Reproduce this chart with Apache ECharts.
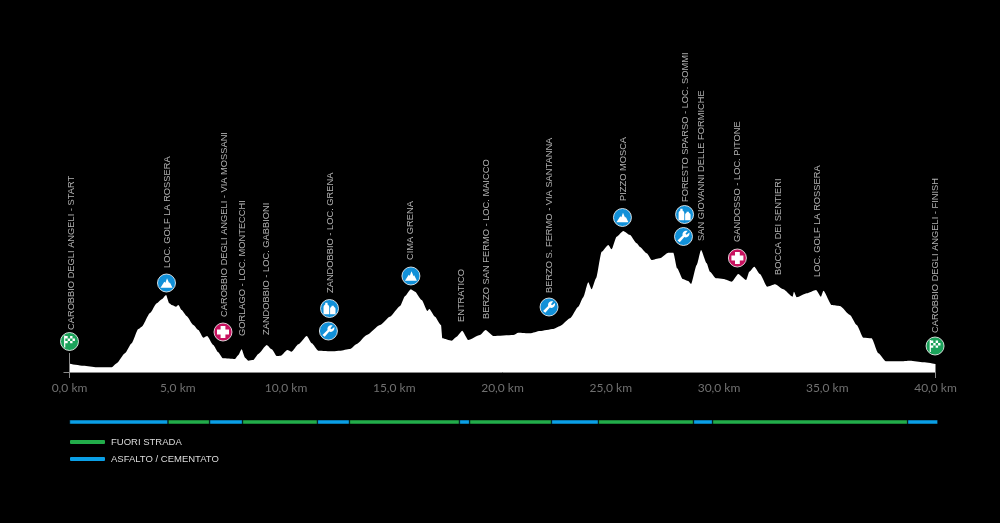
<!DOCTYPE html>
<html>
<head>
<meta charset="utf-8">
<title>Altimetria</title>
<style>
html, body { margin: 0; padding: 0; background: #000; }
#chart { width: 1000px; height: 523px; }
</style>
<script src="https://cdn.jsdelivr.net/npm/echarts@6/dist/echarts.min.js"></script>
</head>
<body>
<div id="chart"></div>
<script>
// profile, km and height above the baseline (no scale in the picture, so pixels)
var profileKm = [0, 0.64, 1.26, 1.95, 2.18, 2.56, 2.87, 3.18, 3.34, 3.72, 4.03, 4.26, 4.46, 4.61, 4.72, 4.92, 5.03, 5.18, 5.41, 5.72, 5.95, 6.18, 6.36, 6.64, 6.87, 7.08, 7.64, 7.80, 7.95, 8.11, 8.26, 8.49, 8.72, 9.11, 9.34, 9.57, 9.76, 10.06, 10.26, 10.57, 10.96, 11.19, 11.49, 12.18, 12.49, 12.96, 13.27, 13.73, 14.34, 14.80, 15.27, 15.50, 15.77, 15.96, 16.27, 16.53, 16.62, 16.88, 17.16, 17.22, 17.65, 17.88, 18.14, 18.42, 18.96, 19.22, 19.58, 20.50, 20.73, 21.27, 21.73, 22.35, 22.66, 23.12, 23.50, 23.73, 23.96, 24.12, 24.32, 24.58, 24.89, 25.04, 25.27, 25.58, 25.89, 26.20, 26.35, 26.66, 26.89, 27.27, 27.66, 27.89, 28.07, 28.32, 28.58, 28.71, 28.97, 29.17, 29.43, 29.58, 29.86, 30.20, 30.59, 30.89, 31.25, 31.40, 31.63, 31.89, 32.23, 32.59, 32.97, 33.40, 33.46, 33.59, 34.05, 34.48, 34.71, 34.82, 35.21, 35.59, 36.05, 36.36, 36.67, 37.05, 37.36, 37.71, 38.36, 38.82, 39.44, 40];
var profileHeight = [8.3, 6.3, 4.7, 4.7, 8.7, 18.7, 28.7, 43, 45.3, 59, 68.7, 72.7, 77, 68.7, 67, 65.3, 67, 62, 56, 47, 42, 34.3, 36, 27, 19.7, 13.7, 13, 17, 22.7, 14.3, 11.3, 12, 18, 27, 22.7, 16, 16.3, 22, 20.3, 27.7, 36, 28.7, 21.3, 20.7, 21.3, 23, 28, 37, 47, 55.3, 66, 76, 82.7, 80.3, 72, 61, 63, 55.3, 47, 33.7, 31.3, 35.3, 41.3, 32, 37, 42, 36, 37, 39.3, 38.7, 41, 43, 46, 53.7, 65.3, 74.7, 89.7, 82.7, 93.7, 120.3, 127, 122.7, 135.3, 141, 137, 128.7, 125, 118.7, 112, 113.7, 119.3, 119.3, 103.7, 93, 91, 88, 107, 122, 108.7, 100.3, 93.7, 93, 90.3, 98, 92, 100.3, 105.3, 98, 85.3, 87.7, 82.7, 75.3, 80.3, 74.7, 78.7, 82, 75.3, 81.3, 67, 66, 57, 47, 34.3, 33.7, 18.7, 10.7, 10.7, 11.3, 9.7, 8];

var tickKm = [0, 5, 10, 15, 20, 25, 30, 35, 40];

// place names along the route
var placeNames = ['CAROBBIO DEGLI ANGELI - START', 'LOC. GOLF LA ROSSERA', 'CAROBBIO DEGLI ANGELI - VIA MOSSANI', 'GORLAGO - LOC. MONTECCHI', 'ZANDOBBIO - LOC. GABBIONI', 'ZANDOBBIO - LOC. GRENA', 'CIMA GRENA', 'ENTRATICO', 'BERZO SAN FERMO - LOC. MAICCO', 'BERZO S. FERMO - VIA SANTANNA', 'PIZZO MOSCA', 'FORESTO SPARSO - LOC. SOMMI', 'SAN GIOVANNI DELLE FORMICHE', 'GANDOSSO - LOC. PITONE', 'BOCCA DEI SENTIERI', 'LOC. GOLF LA ROSSERA', 'CAROBBIO DEGLI ANGELI - FINISH'];
var placeKm = [0.07, 4.52, 7.14, 7.97, 9.11, 12.03, 15.77, 18.12, 19.27, 22.19, 25.57, 28.43, 29.2, 30.87, 32.73, 34.53, 40];
var placeHeight = [42, 104, 55, 36, 37, 79, 112, 50, 53, 79, 171, 170, 131, 130, 97, 95, 39];

// round icons
var markerKm = [0, 4.48, 7.09, 12.01, 11.96, 15.77, 22.15, 25.54, 28.41, 28.36, 30.85, 39.98];
var markerHeight = [30.5, 89, 40, 63.5, 41, 96, 65, 154.5, 157.5, 135.5, 114, 26];
var markerType = ['flag', 'mountain', 'aid', 'water', 'tools', 'mountain', 'tools', 'mountain', 'water', 'tools', 'aid', 'flag'];

// road surface strip
var surfaceEnd = [4.55, 6.47, 7.99, 11.45, 12.93, 18.01, 18.48, 22.26, 24.43, 28.82, 29.7, 38.71, 40.11];
var surfaceType = [1, 0, 1, 0, 1, 0, 1, 0, 1, 0, 1, 0, 1];
var surfaceNames = ['FUORI STRADA', 'ASFALTO / CEMENTATO'];
var surfaceColors = ['#22ac4a', '#0a9fe6'];

var markerColors = { flag: '#1ba25a', mountain: '#1190d8', tools: '#1190d8', water: '#1190d8', aid: '#c8125f' };
var glyphs = {
	flag: 'path://M3 2H5V22H3Z M5 3H9V7H5Z M13 3H17V7H13Z M9 7H13V11H9Z M17 7H21V11H17Z M5 11H9V15H5Z M13 11H17V15H13Z',
	mountain: 'path://M1 20L8 9L10 11L13 3L17 12L18 10L23 20Z',
	aid: 'path://M8 2H16V8H22V16H16V22H8V16H2V8H8Z',
	water: 'path://M5 2H9V5C11 6 12 8 12 10V22H2V10C2 8 3 6 5 5Z M16 7H20V9C22 10 23 11 23 13V22H13.5V13C13.5 11 14 10 16 9Z',
	tools: 'path://M2 19L11 10C10 5 14 1 20 2L16 7L18 9L23 5C24 11 19 15 14 13L6 22Z'
};

var chart = echarts.init(document.getElementById('chart'));

function zip(a, b) {
	return a.map(function (v, i) { return [v, b[i]]; });
}

var series = [{
	name: 'profile',
	type: 'line',
	data: zip(profileKm, profileHeight),
	showSymbol: false,
	smooth: 0.2,
	smoothMonotone: 'x',
	lineStyle: { width: 0 },
	itemStyle: { color: '#fff' },
	areaStyle: { color: '#fff', opacity: 1 },
	z: 2
}, {
	// small upright at the start of the axis
	name: 'start',
	type: 'line',
	data: [[0, 0], [0, 19]],
	showSymbol: false,
	lineStyle: { color: '#8a8a8a', width: 1 },
	z: 3
}, {
	name: 'places',
	type: 'scatter',
	data: zip(placeKm, placeHeight).map(function (p, i) {
		return { value: p, name: placeNames[i] };
	}),
	symbolSize: 0,
	clip: false,
	label: {
		show: true,
		position: 'inside',
		rotate: 90,
		align: 'left',
		verticalAlign: 'middle',
		formatter: '{b}',
		color: '#dcdcdc',
		fontFamily: 'Liberation Sans',
		fontSize: 9.3
	},
	z: 4
}, {
	name: 'markers',
	type: 'scatter',
	data: zip(markerKm, markerHeight).map(function (p, i) {
		return { value: p, itemStyle: { color: markerColors[markerType[i]] } };
	}),
	symbol: 'circle',
	symbolSize: 18,
	clip: false,
	itemStyle: { borderColor: '#fff', borderWidth: 0.8, opacity: 1 },
	z: 5
}, {
	name: 'glyphs',
	type: 'scatter',
	data: zip(markerKm, markerHeight).map(function (p, i) {
		return { value: p, symbol: glyphs[markerType[i]] };
	}),
	symbolSize: 12,
	symbolKeepAspect: true,
	clip: false,
	itemStyle: { color: '#fff', opacity: 1 },
	z: 6
}];

// surface strip, one stacked bar per stretch
surfaceEnd.forEach(function (end, i) {
	var t = surfaceType[i];
	series.push({
		name: surfaceNames[t],
		type: 'bar',
		xAxisIndex: 1,
		yAxisIndex: 1,
		stack: 'surface',
		barWidth: 5,
		data: [end - (i ? surfaceEnd[i - 1] : 0)],
		itemStyle: { color: surfaceColors[t], borderColor: '#000', borderWidth: 0.5 }
	});
});

chart.setOption({
	animation: false,
	backgroundColor: '#000',
	legend: {
		orient: 'vertical',
		left: 70,
		top: 437,
		padding: 0,
		itemWidth: 35,
		itemHeight: 4,
		itemGap: 7,
		icon: 'roundRect',
		data: surfaceNames,
		selectedMode: false,
		itemStyle: { borderWidth: 0 },
		textStyle: { color: '#dcdcdc', fontFamily: 'Liberation Sans', fontSize: 9.5, padding: [0, 0, 0, 1] }
	},
	grid: [
		{ left: 69.5, top: 0, width: 866, height: 372 },
		{ left: 69.5, top: 420, width: 868.4, height: 4 }
	],
	xAxis: [{
		type: 'value',
		min: 0,
		max: 40,
		interval: 5,
		splitLine: { show: false },
		axisLine: { lineStyle: { color: '#8a8a8a', width: 1 } },
		axisTick: { show: true, customValues: [0, 40], length: 6, lineStyle: { color: '#8a8a8a' } },
		axisLabel: {
			customValues: tickKm,
			formatter: function (v) { return v.toFixed(1).replace('.', ',') + ' km'; },
			color: '#707070',
			fontFamily: 'Lato',
			fontSize: 12,
			margin: 10
		}
	}, {
		type: 'value',
		gridIndex: 1,
		min: 0,
		max: 40.11,
		show: false
	}],
	yAxis: [{
		type: 'value',
		min: 0,
		max: 372,
		splitLine: { show: false },
		axisLine: { show: false },
		axisTick: { show: true, customValues: [0], length: 6, lineStyle: { color: '#8a8a8a' } },
		axisLabel: { show: false }
	}, {
		type: 'category',
		gridIndex: 1,
		data: ['surface'],
		show: false
	}],
	series: series
});
</script>
</body>
</html>
